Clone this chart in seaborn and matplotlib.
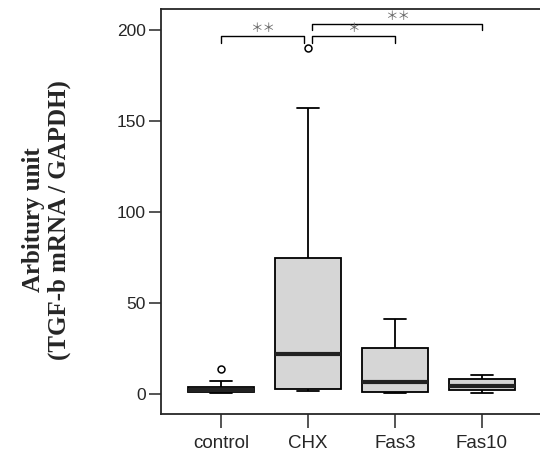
import numpy as np
import pandas as pd
import matplotlib
matplotlib.use("Agg")
import matplotlib.pyplot as plt
import seaborn as sns

# values (arbitrary units)
groups = ["control", "CHX", "Fas3", "Fas10"]
control = [0.8, 0.9, 1.0, 1.5, 2.0, 3.0, 3.8, 7.0, 13.7]
chx = [1.8, 2.3, 2.7, 10.0, 22.0, 40.0, 74.7, 157.0, 190.0]
fas3 = [0.5, 0.8, 1.1, 3.0, 6.6, 15.0, 25.3, 35.0, 41.0]
fas10 = [0.5, 1.5, 2.2, 3.5, 4.4, 6.0, 8.2, 9.5, 10.4]
y_ticks = [0, 50, 100, 150, 200]

# significance brackets: (group a, group b, bar level, label)
brackets = [("control", "CHX", 196.5, "＊＊"),
            ("CHX", "Fas3", 196.5, "＊"),
            ("CHX", "Fas10", 203.5, "＊＊")]

df = pd.DataFrame({
    "group": np.repeat(groups, [len(control), len(chx), len(fas3), len(fas10)]),
    "value": control + chx + fas3 + fas10,
})

sns.set_style("ticks")
plt.rcParams["font.family"] = ["Liberation Sans", "Noto Sans CJK JP", "DejaVu Sans"]

fig = plt.figure(figsize=(5.4, 4.55), dpi=100)
ax = fig.add_axes([161 / 540, 41 / 455, 1.01 - 161 / 540, 405 / 455])

sns.boxplot(data=df, x="group", y="value", order=groups, ax=ax,
            width=0.75, color="#d6d6d6", saturation=1, linecolor="black",
            linewidth=1.3, whis=1.5,
            flierprops=dict(marker="o", markersize=5, markerfacecolor="white",
                            markeredgecolor="black", markeredgewidth=1.1),
            medianprops=dict(color="#222222", linewidth=3))

# shorter whisker caps like the original
for line in ax.lines:
    xd = np.asarray(line.get_xdata(), dtype=float)
    yd = np.asarray(line.get_ydata(), dtype=float)
    if len(xd) == 2 and yd[0] == yd[1] and line.get_linewidth() < 2:
        c = xd.mean()
        if abs(xd[1] - xd[0]) < 0.6:
            line.set_xdata([c - 0.13, c + 0.13])

ax.set_xlim(-0.69, 3.73)
ax.set_ylim(-11, 211.5)
ax.set_yticks(y_ticks)
ax.set_xlabel("")
ax.set_ylabel("Arbitury unit\n(TGF-b mRNA / GAPDH)", fontsize=18,
              fontweight="bold", family="Liberation Serif",
              linespacing=1.15)
ax.yaxis.set_label_coords(-0.235, 0.48)
ax.tick_params(axis="y", length=9, width=1.1, pad=2, labelsize=12.5)
ax.tick_params(axis="x", length=10, width=1.1, pad=5, labelsize=13.5)
for s in ax.spines.values():
    s.set_linewidth(1.3)
ax.spines["right"].set_visible(False)

pos = {g: i for i, g in enumerate(groups)}
for a, b, h, lab in brackets:
    xa, xb = pos[a], pos[b]
    if a == "CHX":
        xa += 0.05
    if b == "CHX":
        xb -= 0.05
    ax.plot([xa, xa, xb, xb], [h - 3.5, h, h, h - 3.5], color="black", lw=1.0)
    ax.text((xa + xb) / 2, h + 0.5, lab, ha="center", va="bottom",
            fontsize=9, color="#666666", family=["Noto Sans CJK JP", "DejaVu Sans"])

fig.savefig("out.png", dpi=100)
